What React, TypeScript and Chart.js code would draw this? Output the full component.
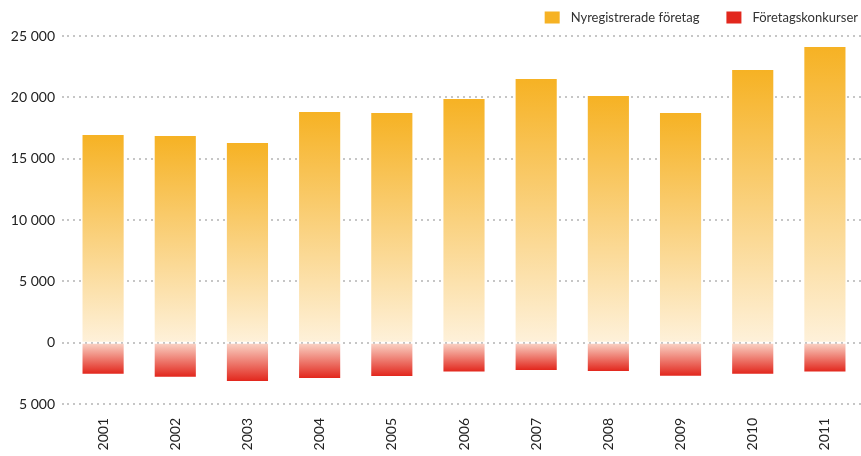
import React, { useEffect, useRef } from "react";
import { Chart, registerables } from "chart.js";

Chart.register(...registerables);

const years = ["2001", "2002", "2003", "2004", "2005", "2006", "2007", "2008", "2009", "2010", "2011"];
const nyregistrerade = [16930, 16850, 16280, 18810, 18730, 19870, 21500, 20110, 18720, 22230, 24100];
const konkurser = [-2530, -2770, -3120, -2880, -2710, -2360, -2220, -2310, -2690, -2530, -2360];
const yTicks = [-5000, 0, 5000, 10000, 15000, 20000, 25000];
const seriesNames = ["Nyregistrerade företag", "Företagskonkurser"];

const ORANGE = "#F6B224";
const ORANGE_PALE = "#FEF1DA";
const RED = "#E2271D";
const RED_PALE = "#FAD6C8";
const FONT = "Lato, 'Open Sans', sans-serif";

function fmt(v: number): string {
  const a = Math.abs(v);
  return String(a).replace(/\B(?=(\d{3})+(?!\d))/g, " ");
}

function gradientFill(top: string, bottom: string, solid: string, positive: boolean) {
  return (ctx: any) => {
    const chart = ctx.chart;
    const area = chart.chartArea;
    if (ctx.type !== "data" || !area || !chart.scales.y) return solid;
    const v = ctx.raw as number;
    const y0 = chart.scales.y.getPixelForValue(0);
    const y1 = chart.scales.y.getPixelForValue(v);
    if (!isFinite(y0) || !isFinite(y1) || y0 === y1) return solid;
    const g = chart.ctx.createLinearGradient(0, positive ? y1 : y0, 0, positive ? y0 : y1);
    g.addColorStop(0, top);
    g.addColorStop(1, bottom);
    return g;
  };
}

const legendPlugin = {
  id: "customLegend",
  afterDraw: (chart: any) => {
    const c = chart.ctx as CanvasRenderingContext2D;
    const colors = [ORANGE, RED];
    c.save();
    c.font = `13px ${FONT}`;
    c.textBaseline = "middle";
    c.textAlign = "left";
    const boxW = 15;
    const boxH = 12;
    const gap = 11;
    const itemGap = 27;
    const right = 858;
    const cy = 17.5;
    const widths = seriesNames.map((n) => c.measureText(n).width);
    let total = 0;
    widths.forEach((w, i) => {
      total += boxW + gap + w + (i < widths.length - 1 ? itemGap : 0);
    });
    let x = right - total;
    seriesNames.forEach((n, i) => {
      c.fillStyle = colors[i];
      c.fillRect(x, cy - boxH / 2, boxW, boxH);
      c.fillStyle = "#333";
      c.fillText(n, x + boxW + gap, cy);
      x += boxW + gap + widths[i] + itemGap;
    });
    c.restore();
  },
};

export default function App() {
  const ref = useRef<HTMLCanvasElement | null>(null);
  useEffect(() => {
    document.body.style.margin = "0";
    const canvas = ref.current;
    if (!canvas) return;
    const chart = new Chart(canvas, {
      type: "bar",
      data: {
        labels: years,
        datasets: [
          {
            label: seriesNames[0],
            data: nyregistrerade,
            backgroundColor: gradientFill(ORANGE, ORANGE_PALE, ORANGE, true),
            borderWidth: 0,
            barPercentage: 0.57,
            categoryPercentage: 1,
          },
          {
            label: seriesNames[1],
            data: konkurser,
            backgroundColor: gradientFill(RED_PALE, RED, RED, false),
            borderWidth: 0,
            barPercentage: 0.57,
            categoryPercentage: 1,
          },
        ],
      },
      options: {
        animation: false,
        responsive: false,
        layout: { padding: { top: 36, right: 0, left: 0, bottom: 0 } },
        plugins: {
          legend: { display: false },
          tooltip: { enabled: false },
        },
        scales: {
          x: {
            stacked: true,
            afterFit: (scale: any) => {
              scale.height = 52;
            },
            grid: { display: false, drawTicks: false },
            border: { display: false },
            ticks: {
              minRotation: 90,
              maxRotation: 90,
              padding: 14,
              color: "#222",
              font: { family: FONT, size: 14 },
            },
          },
          y: {
            stacked: true,
            min: -5000,
            max: 25000,
            afterFit: (scale: any) => {
              scale.width = 67;
            },
            afterBuildTicks: (scale: any) => {
              scale.ticks = yTicks.map((v) => ({ value: v }));
            },
            grid: {
              color: "#C6C6C6",
              lineWidth: 2,
              tickLength: 5,
              tickBorderDash: [2, 4],
              tickColor: "#C6C6C6",
            },
            border: { display: false, dash: [2, 4] },
            ticks: {
              padding: 7,
              color: "#222",
              font: { family: FONT, size: 14 },
              callback: (v: any) => fmt(Number(v)),
            },
          },
        },
      },
      plugins: [legendPlugin],
    } as any);
    return () => chart.destroy();
  }, []);
  return (
    <div style={{ position: "absolute", left: 0, top: 0, width: 861, height: 456 }}>
      <canvas ref={ref} width={861} height={456} />
    </div>
  );
}
